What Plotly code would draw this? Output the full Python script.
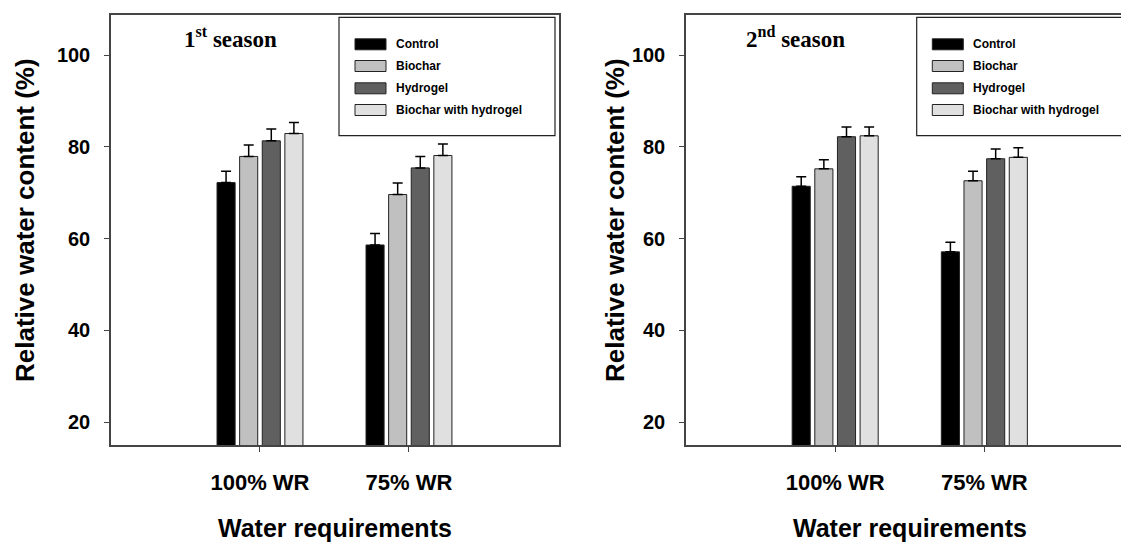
import plotly.graph_objects as go

W, H = 1121, 544

categories = ["100% WR", "75% WR"]
treatments = ["Control", "Biochar", "Hydrogel", "Biochar with hydrogel"]
colors = ["#000000", "#c0c0c0", "#606060", "#e0e0e0"]

# 1st season
s1_control = [72.2, 58.6]
s1_biochar = [77.9, 69.6]
s1_hydrogel = [81.3, 75.4]
s1_bwh = [82.9, 78.1]
s1_control_err = [2.5, 2.5]
s1_biochar_err = [2.5, 2.5]
s1_hydrogel_err = [2.6, 2.5]
s1_bwh_err = [2.4, 2.5]

# 2nd season
s2_control = [71.4, 57.1]
s2_biochar = [75.2, 72.6]
s2_hydrogel = [82.2, 77.4]
s2_bwh = [82.4, 77.7]
s2_control_err = [2.1, 2.1]
s2_biochar_err = [2.0, 2.1]
s2_hydrogel_err = [2.1, 2.1]
s2_bwh_err = [1.9, 2.1]

y_ticks = [20, 40, 60, 80, 100]

s1 = [s1_control, s1_biochar, s1_hydrogel, s1_bwh]
s1e = [s1_control_err, s1_biochar_err, s1_hydrogel_err, s1_bwh_err]
s2 = [s2_control, s2_biochar, s2_hydrogel, s2_bwh]
s2e = [s2_control_err, s2_biochar_err, s2_hydrogel_err, s2_bwh_err]

SANS = "Liberation Sans, Arial, sans-serif"
SERIF = "Liberation Serif, Times New Roman, serif"

def xp(px):
    return px / W

def yp(py):
    return 1 - py / H

fig = go.Figure()
xpos = list(range(len(categories)))
for panel, (vals, errs) in enumerate([(s1, s1e), (s2, s2e)]):
    xa = "x" if panel == 0 else "x2"
    ya = "y" if panel == 0 else "y2"
    for name, v, e, c in zip(treatments, vals, errs, colors):
        fig.add_trace(go.Bar(
            x=xpos, y=v, name=name, xaxis=xa, yaxis=ya,
            marker=dict(color=c, line=dict(color="#222222", width=1)),
            error_y=dict(type="data", symmetric=False, array=e,
                         arrayminus=[0] * len(e), color="#000000",
                         thickness=1.5, width=5),
            showlegend=False,
        ))

top_px, bot_px = 14.7, 445
ydom = [yp(bot_px), yp(top_px)]
yrange = [15, 108.8]

axis_common = dict(showline=True, linecolor="#444444", linewidth=1.5,
                   ticks="outside", tickcolor="#444444", ticklen=5,
                   showgrid=False, zeroline=False)
xfont = dict(family=SANS, size=22, color="#000", weight="bold")
yfont = dict(family=SANS, size=20, color="#000", weight="bold")

fig.update_layout(
    width=W, height=H,
    margin=dict(l=0, r=0, t=0, b=0),
    paper_bgcolor="white", plot_bgcolor="white",
    barmode="group", bargap=0.393, bargroupgap=0.2,
    xaxis=dict(domain=[xp(111), xp(559)], range=[-1, 2.007],
               tickvals=xpos, ticktext=categories, mirror=True,
               tickfont=xfont, ticklabelstandoff=12, **axis_common),
    yaxis=dict(domain=ydom, range=yrange, tickvals=y_ticks, mirror=True,
               tickfont=yfont, ticklabelstandoff=10, **axis_common),
    xaxis2=dict(domain=[xp(686), 1], range=[-1, 1.916], anchor="y2",
                tickvals=xpos, ticktext=categories, mirror=True,
                tickfont=xfont, ticklabelstandoff=12, **axis_common),
    yaxis2=dict(domain=ydom, range=yrange, tickvals=y_ticks, anchor="x2",
                mirror=False, tickfont=yfont, ticklabelstandoff=10, **axis_common),
)

annotations = []
shapes = []

# axis titles
for cx in [335, 910]:
    annotations.append(dict(text="<b>Water requirements</b>", x=xp(cx), y=yp(528),
                            xref="paper", yref="paper", showarrow=False,
                            xanchor="center", yanchor="middle",
                            font=dict(family=SANS, size=25, color="#000")))
for cx in [25, 615]:
    annotations.append(dict(text="<b>Relative water content (%)</b>", x=xp(cx), y=yp(220),
                            xref="paper", yref="paper", showarrow=False,
                            xanchor="center", yanchor="middle", textangle=-90,
                            font=dict(family=SANS, size=26, color="#000")))

# season titles
for txt, lx in [("<b>1<sup>st</sup> season</b>", 181.7), ("<b>2<sup>nd</sup> season</b>", 744.3)]:
    annotations.append(dict(text=txt, x=xp(lx), y=yp(38), xref="paper", yref="paper",
                            showarrow=False, xanchor="left", yanchor="middle",
                            font=dict(family=SERIF, size=23, color="#000")))

# legends (drawn manually)
for box_l, box_r, sw_l, txt_l in [(339, 555, 355, 394), (916.7, 1125, 932.3, 970.7)]:
    shapes.append(dict(type="rect", xref="paper", yref="paper",
                       x0=xp(box_l), x1=xp(box_r), y0=yp(135.7), y1=yp(17.3),
                       line=dict(color="#222222", width=1.2), fillcolor="white"))
    for name, c, cy in zip(treatments, colors, [44.3, 66.0, 88.3, 110.0]):
        shapes.append(dict(type="rect", xref="paper", yref="paper",
                           x0=xp(sw_l), x1=xp(sw_l + 31), y0=yp(cy + 5.5), y1=yp(cy - 5.5),
                           line=dict(color="#222222", width=1), fillcolor=c))
        annotations.append(dict(text="<b>" + name + "</b>", x=xp(txt_l), y=yp(cy),
                                xref="paper", yref="paper", showarrow=False,
                                xanchor="left", yanchor="middle",
                                font=dict(family=SANS, size=12, color="#000")))

fig.update_layout(annotations=annotations, shapes=shapes)
fig.write_html("out.html")
